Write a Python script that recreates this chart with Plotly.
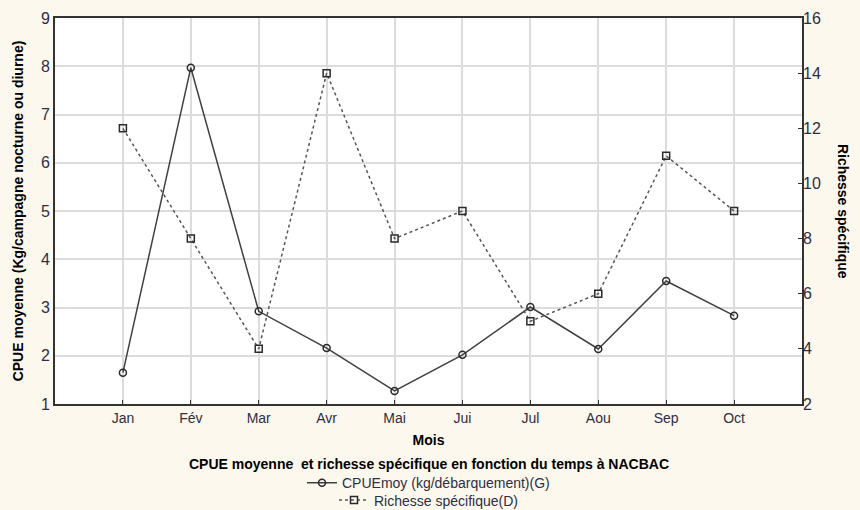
"""CPUE moyenne et richesse spécifique par mois à NACBAC."""

import plotly.graph_objects as go

mois = ["Jan", "Fév", "Mar", "Avr", "Mai", "Jui", "Jul", "Aou", "Sep", "Oct"]
cpue_moy = [1.65, 7.97, 2.92, 2.16, 1.27, 2.02, 3.01, 2.14, 3.55, 2.83]
richesse = [12, 8, 4, 14, 8, 9, 5, 6, 11, 9]

FONT = "Liberation Sans, Arial, sans-serif"
TEXT = "#2c2f45"
BG = "#fdf8ed"

fig = go.Figure()

fig.add_trace(
    go.Scatter(
        x=mois,
        y=cpue_moy,
        mode="lines+markers",
        name="CPUEmoy (kg/débarquement)(G)",
        line=dict(color="#404040", width=1.5),
        marker=dict(symbol="circle-open", size=7, color="#2a2a2a", line=dict(width=1.5)),
        legend="legend",
    )
)
fig.add_trace(
    go.Scatter(
        x=mois,
        y=richesse,
        mode="lines+markers",
        name="Richesse spécifique(D)",
        yaxis="y2",
        line=dict(color="#555555", width=1.5, dash="dot"),
        marker=dict(symbol="square-open", size=7, color="#2a2a2a", line=dict(width=1.5)),
        legend="legend2",
    )
)

fig.update_layout(
    width=860,
    height=510,
    paper_bgcolor=BG,
    plot_bgcolor="white",
    margin=dict(l=55, r=58, t=18, b=106, autoexpand=False),
    font=dict(family=FONT, size=14, color=TEXT),
    xaxis=dict(
        range=[-1, 10],
        showgrid=True,
        gridcolor="#dcdcdc",
        gridwidth=1.5,
        showline=True,
        linecolor="#333333",
        linewidth=2,
        mirror=True,
        ticks="inside",
        ticklen=4,
        tickcolor="#333333",
        tickfont=dict(size=14, color=TEXT),
        title=dict(text="<b>Mois</b>", font=dict(size=14, color="black"), standoff=10),
    ),
    yaxis=dict(
        range=[1, 9],
        dtick=1,
        showgrid=True,
        gridcolor="#dcdcdc",
        gridwidth=1.5,
        showline=True,
        linecolor="#333333",
        linewidth=2,
        mirror=True,
        zeroline=False,
        tickfont=dict(size=16, color=TEXT),
        title=dict(
            text="<b>CPUE moyenne (Kg/campagne nocturne ou diurne)</b>",
            font=dict(size=14, color="black"),
            standoff=14,
        ),
    ),
    yaxis2=dict(
        range=[2, 16],
        dtick=2,
        overlaying="y",
        side="right",
        showgrid=False,
        zeroline=False,
        ticks="inside",
        ticklen=4,
        tickcolor="#333333",
        tickfont=dict(size=16, color=TEXT),
    ),
    legend=dict(
        x=0.5,
        y=-0.205,
        xanchor="center",
        yanchor="middle",
        orientation="h",
        bgcolor="rgba(0,0,0,0)",
        font=dict(size=14, color=TEXT),
    ),
    legend2=dict(
        x=0.5,
        y=-0.25,
        xanchor="center",
        yanchor="middle",
        orientation="h",
        bgcolor="rgba(0,0,0,0)",
        font=dict(size=14, color=TEXT),
    ),
    showlegend=True,
)

fig.add_annotation(
    text="<b>CPUE moyenne  et richesse spécifique en fonction du temps à NACBAC</b>",
    xref="paper",
    yref="paper",
    x=0.5,
    y=-0.155,
    xanchor="center",
    yanchor="middle",
    showarrow=False,
    font=dict(size=14, color="black"),
)
fig.add_annotation(
    text="<b>Richesse spécifique</b>",
    xref="paper",
    yref="paper",
    x=1.055,
    y=0.5,
    xanchor="center",
    yanchor="middle",
    textangle=90,
    showarrow=False,
    font=dict(size=14, color="black"),
)

fig.write_html(
    "out.html",
    config={"displayModeBar": False},
    post_script="document.body.style.margin = '0';",
)
